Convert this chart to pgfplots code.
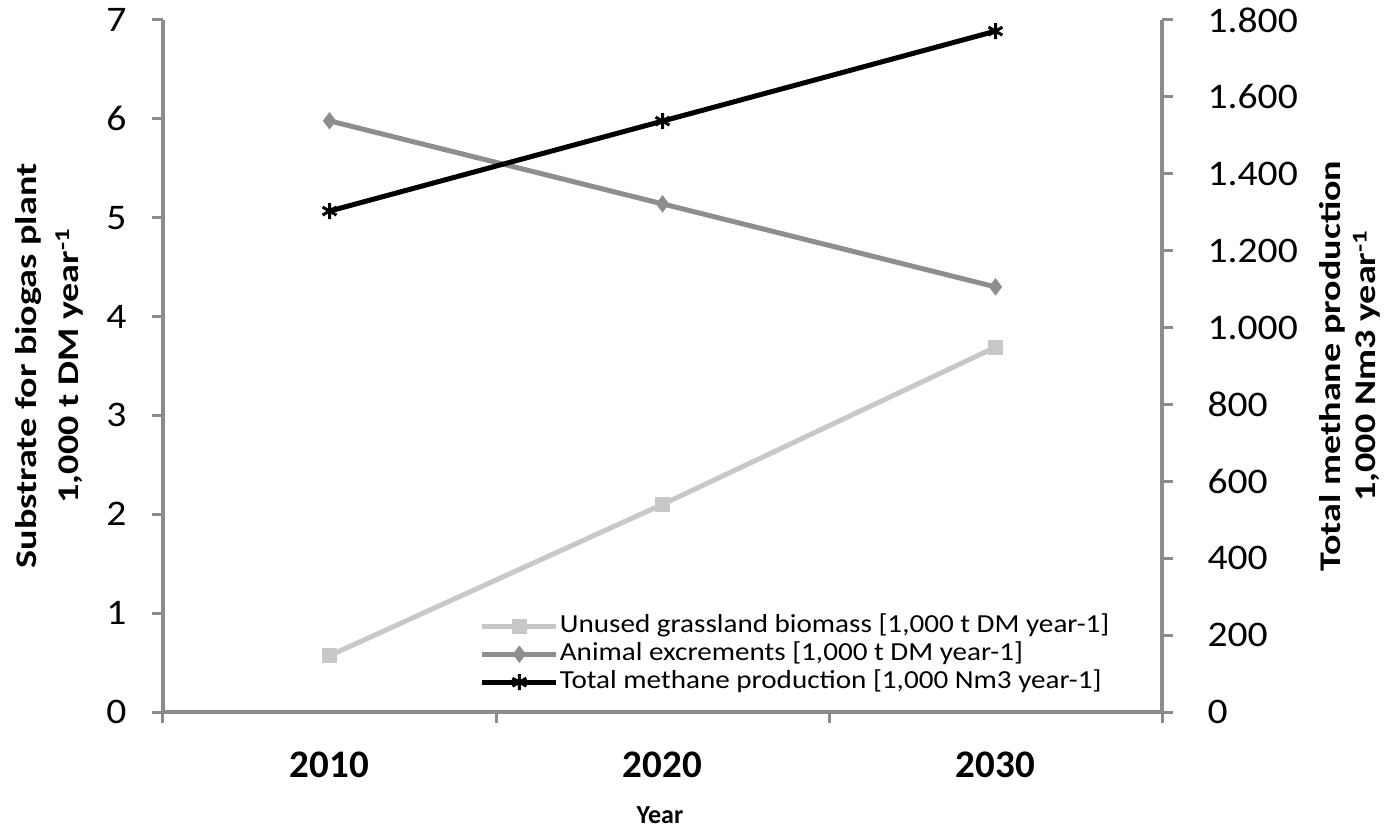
\documentclass[border=0pt]{standalone}
\usepackage{pgfplots}
\pgfplotsset{compat=1.18}
\usepackage{fontspec}
\setmainfont{Carlito}
\newfontfamily\labfont{Carlito}[FakeStretch=1.27]
\newfontfamily\legfont{Carlito}[FakeStretch=1.12]
\newfontfamily\tickfont{Carlito}[FakeStretch=1.1]
\definecolor{axgray}{HTML}{8C8C8C}
\definecolor{lgray}{HTML}{C8C8C8}
\definecolor{mgray}{HTML}{8E8E8E}
\begin{document}
\begin{tikzpicture}[x=1pt,y=1pt]
\path[use as bounding box] (-163,-118) rectangle (1226,712);
\begin{axis}[at={(0,0)}, anchor=south west, scale only axis, width=999pt, height=692pt,
  xmin=-0.5, xmax=2.5, ymin=0, ymax=7, clip=false,
  axis y line*=left, axis x line*=bottom,
  axis line style={axgray, line width=3.5pt},
  /pgf/number format/assume math mode=true,
  xtick={0,1,2}, xticklabels={2010,2020,2030},
  major x tick style={draw=none},
  minor xtick={-0.5,0.5,1.5,2.5},
  ytick={0,1,...,7},
  tick align=outside, major tick length=11pt, minor tick length=11pt,
  tick style={axgray, line width=3pt},
  xticklabel style={font=\bfseries\fontsize{39}{39}\selectfont, yshift=-25pt},
  yticklabel style={font=\tickfont\fontsize{36}{36}\selectfont, xshift=-22pt},
  legend style={at={(rel axis cs:0.317,0.1445)}, anchor=north west, draw=none, fill=none,
    font=\legfont\fontsize{26}{28}\selectfont, inner sep=0pt, row sep=0pt,
    nodes={inner sep=1pt, text height=19pt, text depth=7pt}},
  legend cell align=left,
  legend image code/.code={\draw[mark repeat=2,mark phase=2] plot coordinates {(0pt,0pt) (37pt,0pt) (74pt,0pt)};},
]
\addplot[lgray, line width=5pt, mark=square*, mark size=7pt, mark options={fill=lgray, line width=1pt}] coordinates {(0,0.57) (1,2.10) (2,3.69)};
\addlegendentry{Unused grassland biomass [1,000 t DM year-1]}
\addplot[mgray, line width=5pt, mark=diamond*, mark size=8pt, mark options={fill=mgray, line width=1pt}] coordinates {(0,5.98) (1,5.14) (2,4.30)};
\addlegendentry{Animal excrements [1,000 t DM year-1]}
\addlegendimage{black, line width=5pt, mark=asterisk, mark size=8pt, mark options={line width=3pt}}
\addlegendentry{Total methane production [1,000 Nm3 year-1]}
\end{axis}
\begin{axis}[at={(0,0)}, anchor=south west, scale only axis, width=999pt, height=692pt,
  xmin=-0.5, xmax=2.5, ymin=0, ymax=1800, clip=false,
  axis y line*=right, axis x line=none,
  axis line style={axgray, line width=3.5pt},
  /pgf/number format/assume math mode=true,
  ytick={0,200,...,1800},
  yticklabels={0,200,400,600,800,1.000,1.200,1.400,1.600,1.800},
  tick align=outside, major tick length=11pt,
  tick style={axgray, line width=3pt},
  yticklabel style={font=\tickfont\fontsize{36}{36}\selectfont, xshift=31pt},
]
\addplot[black, line width=5pt, mark=asterisk, mark size=8pt, mark options={line width=3pt}] coordinates {(0,1303) (1,1537) (2,1771)};
\end{axis}
\node[rotate=90, align=center, font=\labfont\bfseries\fontsize{30}{42}\selectfont] at (-114,346) {Substrate for biogas plant\\1,000 t DM year\textsuperscript{-1}};
\node[rotate=90, align=center, font=\labfont\bfseries\fontsize{30}{35}\selectfont] at (1187,346) {Total methane production\\1,000 Nm3 year\textsuperscript{-1}};
\node[font=\bfseries\fontsize{26}{26}\selectfont, inner sep=1pt] at (497,-103) {Year};
\end{tikzpicture}
\end{document}
